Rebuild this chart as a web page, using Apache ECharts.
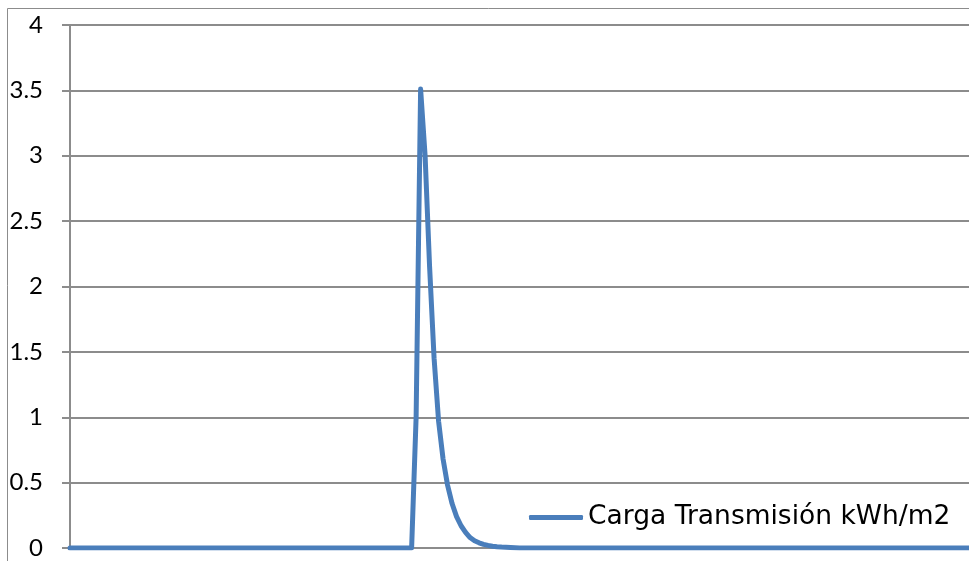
<!DOCTYPE html>
<html>
<head>
<meta charset="utf-8">
<script src="https://cdn.jsdelivr.net/npm/echarts@6/dist/echarts.min.js"></script>
<style>
html,body{margin:0;padding:0;background:#fff;}
#chart{width:969px;height:561px;}
</style>
</head>
<body>
<div id="chart"></div>
<script>
// Time step index (x) and load values (y)
const stepIndex = [0, 76, 77, 78, 79, 80, 81, 82, 83, 84, 85, 86, 87, 88, 89, 90, 91, 92, 93, 94, 95, 96, 97, 98, 100, 200];
const loadValues = [0, 0, 1.0, 3.51, 3.0, 2.15, 1.45, 0.97, 0.68, 0.48, 0.34, 0.24, 0.17, 0.12, 0.08, 0.055, 0.04, 0.028, 0.02, 0.014, 0.01, 0.007, 0.005, 0.003, 0, 0];
const yTicks = [0, 0.5, 1, 1.5, 2, 2.5, 3, 3.5, 4];
const seriesName = 'Carga Transmisión kWh/m2';

const data = stepIndex.map((x, i) => [x, loadValues[i]]);
const AXIS_FONT = 'Lato, sans-serif';
const LEGEND_FONT = '"DejaVu Sans", sans-serif';
const chart = echarts.init(document.getElementById('chart'));
chart.setOption({
  animation: false,
  backgroundColor: '#fff',
  grid: { left: 70, top: 25, width: 900, height: 523 },
  graphic: [{
    type: 'rect', shape: { x: 7.5, y: 8.5, width: 1000, height: 600 },
    style: { fill: 'none', stroke: '#8c8c8c', lineWidth: 1 }, z: -1
  }],
  legend: {
    left: 524, top: 499, itemWidth: 54, itemHeight: 5, icon: 'roundRect',
    data: [seriesName],
    textStyle: { fontSize: 26.5, color: '#000', fontFamily: LEGEND_FONT }
  },
  xAxis: {
    type: 'value', min: 0, max: 200,
    axisLine: { show: false }, axisTick: { show: false }, axisLabel: { show: false },
    splitLine: { show: false }
  },
  yAxis: {
    type: 'value', min: 0, max: 4, interval: 0.5,
    axisLine: { show: true, lineStyle: { color: '#8c8c8c', width: 2 } },
    axisTick: { show: true, length: 8, lineStyle: { color: '#8c8c8c', width: 2 } },
    axisLabel: { margin: 27, fontSize: 24, color: '#000', fontFamily: AXIS_FONT,
      formatter: v => String(v) },
    splitLine: { show: true, lineStyle: { color: '#8c8c8c', width: 2 } }
  },
  series: [{
    name: seriesName, type: 'line', data: data,
    showSymbol: false, smooth: false,
    lineStyle: { color: '#4a7ebb', width: 5, cap: 'round', join: 'round' },
    itemStyle: { color: '#4a7ebb' }
  }]
});
</script>
</body>
</html>
